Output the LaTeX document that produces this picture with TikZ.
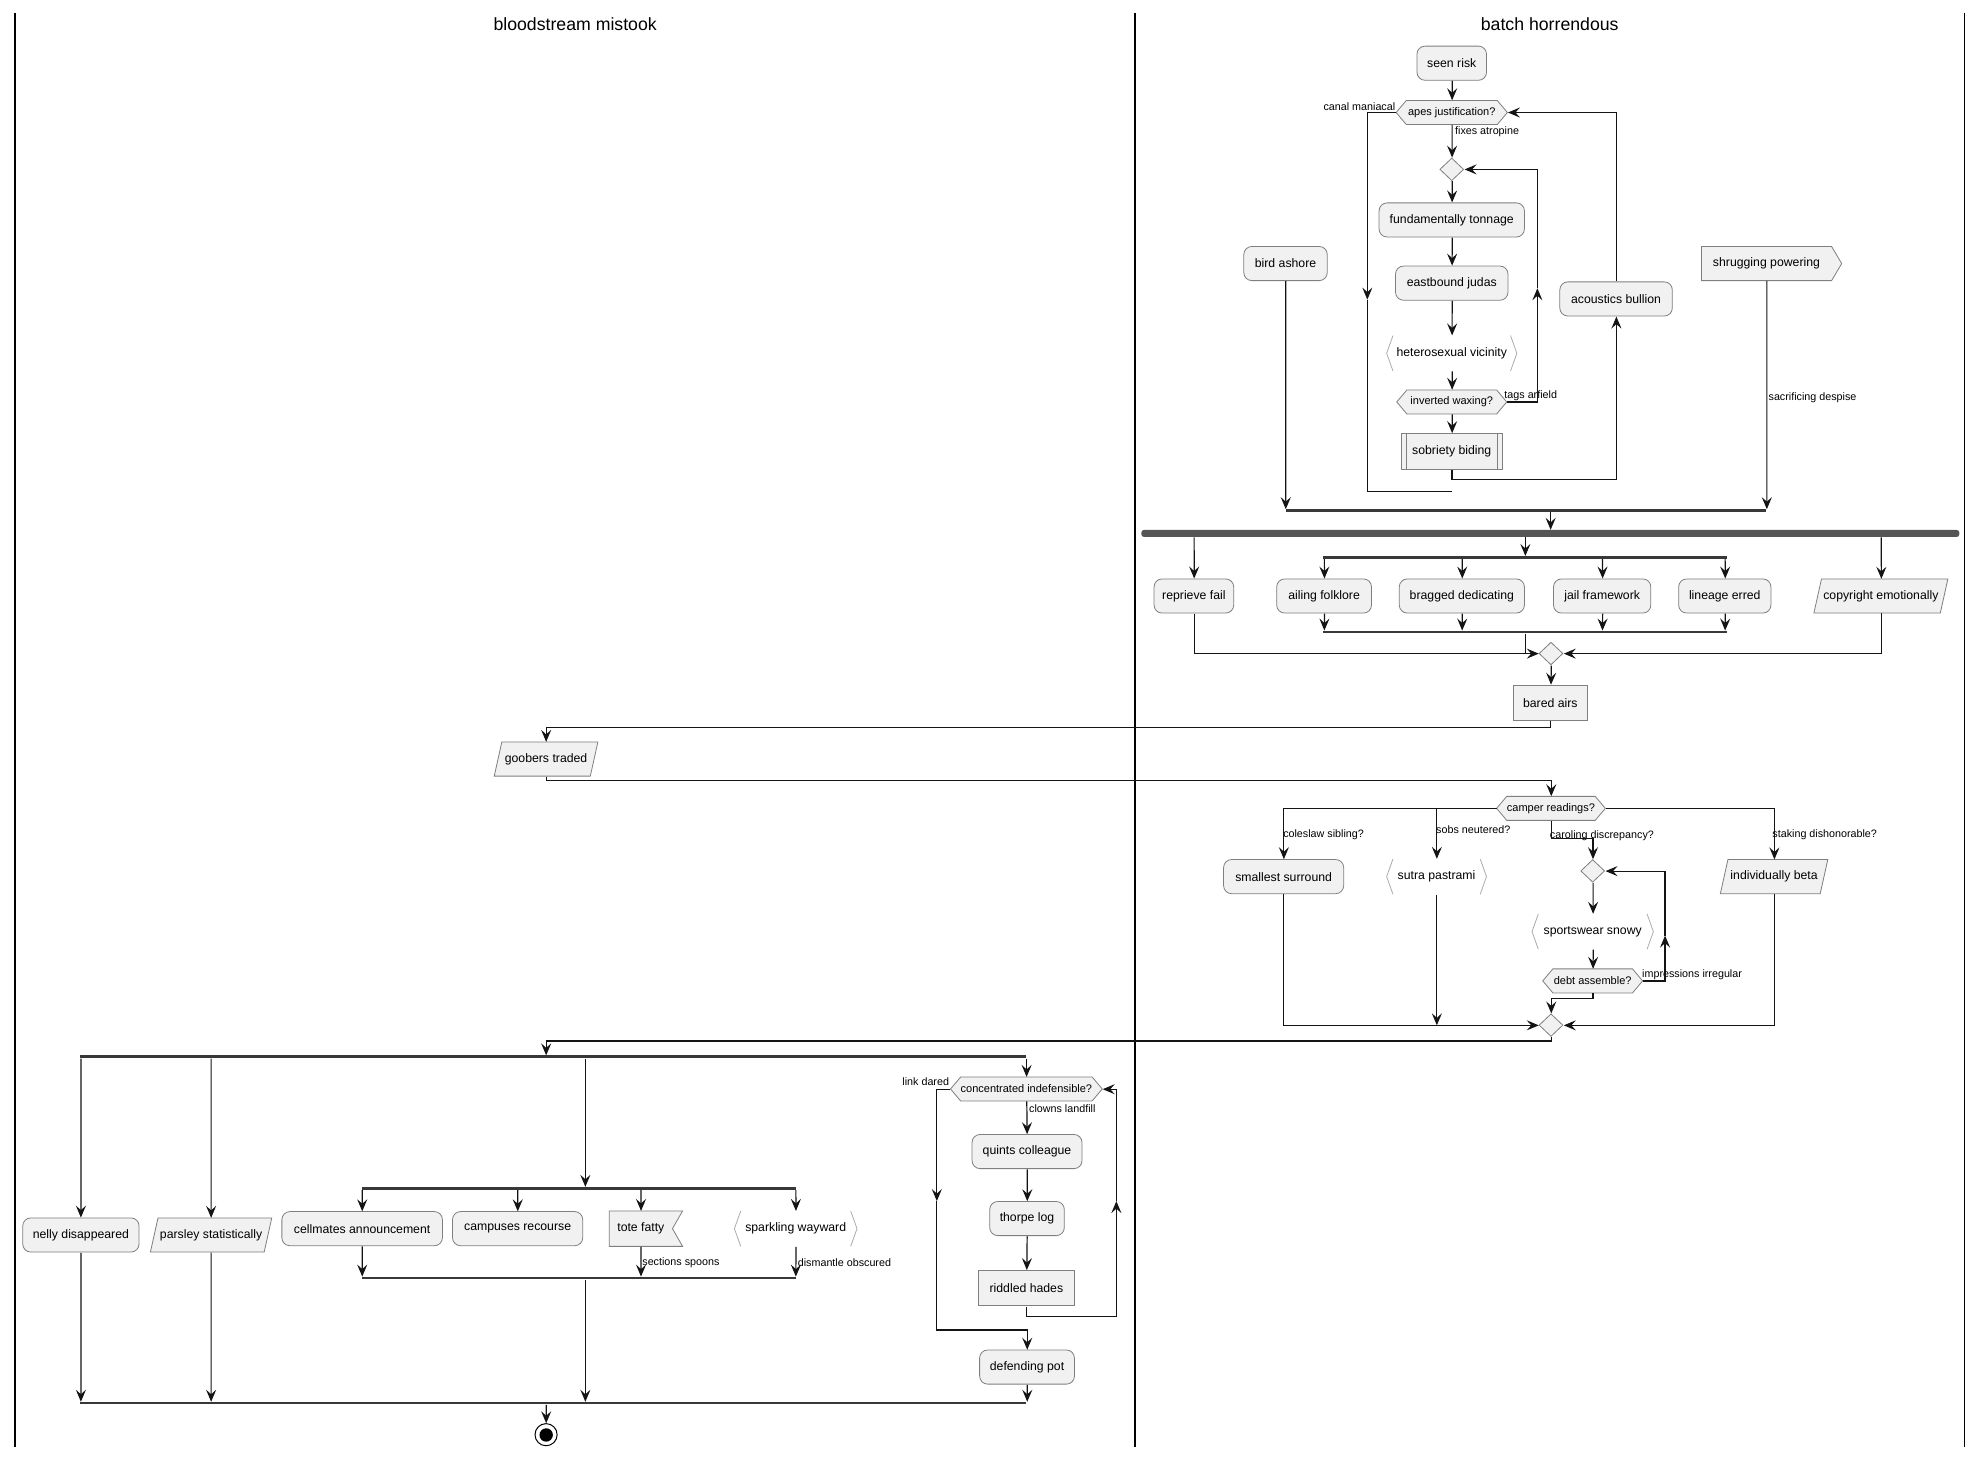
\documentclass[tikz,border=0pt]{standalone}
\usepackage{fontspec}
\setmainfont{Liberation Sans}
\usetikzlibrary{arrows.meta,shapes.geometric}

\definecolor{actfill}{HTML}{F1F1F1}
\definecolor{actline}{HTML}{7F7F7F}
\definecolor{brkline}{HTML}{ABABAB}
\definecolor{forkgray}{HTML}{555555}
\definecolor{bargray}{HTML}{383838}

\newcommand\actfont{\fontsize{9.7}{11}\selectfont}
\newcommand\hexfont{\fontsize{8.7}{10}\selectfont}
\newcommand\lblfont{\fontsize{8.5}{10}\selectfont}
\newcommand\lanefont{\fontsize{14}{16}\selectfont}

\tikzset{
  lane/.style={line width=1.4pt, draw=black},
  lanetitle/.style={inner sep=0, font=\lanefont},
  conn/.style={line width=1.2pt, draw=black!92},
  arr/.style={conn, -{Stealth[length=12pt,width=10pt,inset=4.5pt]}},
  act/.style={rectangle, rounded corners=8, fill=actfill, draw=actline, line width=0.8pt, minimum height=27, inner sep=2, font=\actfont},
  box/.style={rectangle, fill=actfill, draw=actline, line width=0.8pt, minimum height=28, inner sep=2, font=\actfont},
  plain/.style={rectangle, inner sep=0, font=\actfont},
  hexplain/.style={rectangle, inner sep=0, font=\hexfont},
  outline/.style={fill=actfill, draw=actline, line width=0.8pt},
  brk/.style={draw=brkline, line width=0.8pt},
  subbar/.style={draw=actline, line width=0.8pt},
  dia/.style={diamond, aspect=1.05, fill=actfill, draw=actline, line width=0.8pt, minimum width=19, minimum height=18, inner sep=0},
  lbl/.style={inner sep=0, font=\lblfont},
  splitbar/.style={rectangle, fill=bargray, inner sep=0, minimum height=2.1},
  forkbar/.style={rectangle, fill=forkgray, rounded corners=2.5, inner sep=0, minimum height=5.5},
  endring/.style={circle, draw=black, line width=1pt, fill=white, minimum size=17.5, inner sep=0},
  enddot/.style={circle, fill=black, minimum size=10.6, inner sep=0},
}

% hexagonal decision: name, x, y, width, text
\newcommand\hexnode[5]{%
  \path[outline] ({#2-#4/2},#3) -- ({#2-#4/2+8},{#3-9.5}) -- ({#2+#4/2-8},{#3-9.5})
    -- ({#2+#4/2},#3) -- ({#2+#4/2-8},{#3+9.5}) -- ({#2-#4/2+8},{#3+9.5}) -- cycle;
  \node[hexplain, minimum width=#4, minimum height=19] (#1) at (#2,#3) {#5};}
% bracketed activity: name, x, y, width, text
\newcommand\brknode[5]{%
  \draw[brk] ({#2-#4/2+5},{#3-14}) -- ({#2-#4/2},#3) -- ({#2-#4/2+5},{#3+14});
  \draw[brk] ({#2+#4/2-5},{#3-14}) -- ({#2+#4/2},#3) -- ({#2+#4/2-5},{#3+14});
  \node[plain, minimum width=#4, minimum height=28] (#1) at (#2,#3) {#5};}
% slanted activity: name, x, y, width, text
\newcommand\paranode[5]{%
  \path[outline] ({#2-#4/2},{#3+13.5}) -- ({#2-#4/2+6},{#3-13.5}) -- ({#2+#4/2},{#3-13.5})
    -- ({#2+#4/2-6},{#3+13.5}) -- cycle;
  \node[plain, minimum width=#4, minimum height=27] (#1) at (#2,#3) {#5};}

\begin{document}
\begin{tikzpicture}[x=1pt,y=-1pt,scale=1.264,transform shape]
\useasboundingbox (0,0) rectangle (1568,1152);

% swimlanes
\draw[lane] (12,10) -- (12,1145);
\draw[lane] (898,10) -- (898,1145);
\draw[lane] (1554,10) -- (1554,1145);
\node[lanetitle] (laneL) at (455,19) {bloodstream mistook};
\node[lanetitle] (laneR) at (1226,19) {batch horrendous};

% ---------- batch horrendous: upper block ----------
\node[act, minimum width=55] (seen) at (1148.5,50) {seen risk};
\hexnode{apes}{1148.5}{89}{88}{apes justification?}
\node[dia] (d1) at (1148.5,134) {};
\node[act, minimum width=115] (fund) at (1148.5,174) {fundamentally tonnage};
\node[act, minimum width=89] (east) at (1148.5,224) {eastbound judas};
\brknode{hetero}{1148.5}{279.5}{103}{heterosexual vicinity}
\hexnode{inv}{1148.5}{318}{87}{inverted waxing?}
\node[box, minimum width=80] (sob) at (1148.5,357) {sobriety biding};
\draw[subbar] (1112.5,343) -- (1112.5,371) (1184.5,343) -- (1184.5,371);
\node[act, minimum width=89] (acou) at (1278.5,236.5) {acoustics bullion};
\node[act, minimum width=66] (bird) at (1017,208.5) {bird ashore};
\path[outline] (1346,195) -- (1449,195) -- (1457,208.5) -- (1449,222) -- (1346,222) -- cycle;
\node[plain, minimum width=103, minimum height=27] (shrug) at (1397.5,208.5) {shrugging powering};

\node[lbl, anchor=east] (lcanal) at (1104,84) {canal maniacal};
\node[lbl, anchor=west] (lfixes) at (1151,104) {fixes atropine};
\node[lbl, anchor=west] (ltags) at (1190,313) {tags arfield};
\node[lbl, anchor=west] (lsacr) at (1399,315) {sacrificing despise};

\node[splitbar, minimum width=380] (join1) at (1207,404) {};
\node[forkbar, minimum width=647] (fork) at (1226.5,422) {};

\draw[arr] (seen) -- (apes);
\draw[arr] (apes) -- (d1);
\draw[arr] (d1) -- (fund);
\draw[arr] (fund) -- (east);
\draw[arr] (east) -- (hetero);
\draw[arr] (hetero) -- (inv);
\draw[arr] (inv) -- (sob);
\coordinate (lpA) at (1216,228);
\draw[arr] (inv.east) -| (lpA);
\draw[arr] (lpA) |- (d1.east);
\draw[arr] (sob.south) -- ++(0,8) -| (acou.south);
\draw[arr] (acou.north) |- (apes.east);
\coordinate (exA) at (1081.5,237);
\coordinate (exB) at (1148.5,389);
\draw[arr] (apes.west) -| (exA);
\draw[conn] (exA) |- (exB);
\draw[arr] (bird) -- (bird |- join1.north);
\draw[arr] (shrug) -- (shrug |- join1.north);
\draw[arr] (fork.north |- join1.south) -- (fork.north);

% ---------- parallel block ----------
\node[act, minimum width=63] (rep) at (944.5,471.5) {reprieve fail};
\node[act, minimum width=75] (ail) at (1047.5,471.5) {ailing folklore};
\node[act, minimum width=99] (brag) at (1156.5,471.5) {bragged dedicating};
\node[act, minimum width=77] (jail) at (1267.5,471.5) {jail framework};
\node[act, minimum width=73] (lin) at (1364.5,471.5) {lineage erred};
\paranode{copy}{1488}{471.5}{106}{copyright emotionally}
\node[splitbar, minimum width=319] (split1) at (1206.5,441) {};
\node[splitbar, minimum width=319] (split1e) at (1206.5,500) {};
\node[dia] (d2) at (1227,517) {};
\node[box, minimum width=59] (bared) at (1226.5,556) {bared airs};

\draw[arr] (rep |- fork.south) -- (rep);
\draw[arr] (split1 |- fork.south) -- (split1.north);
\draw[arr] (copy |- fork.south) -- (copy);
\foreach \n in {ail,brag,jail,lin} {
  \draw[arr] (\n |- split1.south) -- (\n);
  \draw[arr] (\n) -- (\n |- split1e.north);
}
\draw[conn] (split1e.south) -- (split1e |- d2);
\draw[arr] (rep) |- (d2.west);
\draw[arr] (copy) |- (d2.east);
\draw[arr] (d2) -- (bared);

% ---------- hand-over to the left lane and back ----------
\paranode{goob}{432}{600.5}{82}{goobers traded}
\draw[arr] (bared.south) -- ++(0,5) -| (goob.north);

\hexnode{camper}{1227}{639.5}{86}{camper readings?}
\draw[arr] (goob.south) -- ++(0,3) -| (camper.north);

\node[act, minimum width=95] (small) at (1015.5,693.5) {smallest surround};
\brknode{sutra}{1136.5}{693.5}{79}{sutra pastrami}
\node[dia] (d3) at (1260,689) {};
\brknode{sports}{1260}{737}{96}{sportswear snowy}
\hexnode{debt}{1260}{776}{79}{debt assemble?}
\paranode{indiv}{1403.5}{693.5}{85}{individually beta}
\node[dia] (d4) at (1227,811) {};

\node[lbl, anchor=west] (lcole) at (1015,660) {coleslaw sibling?};
\node[lbl, anchor=west] (lsobs) at (1136,656) {sobs neutered?};
\node[lbl, anchor=west] (lcaro) at (1226,661) {caroling discrepancy?};
\node[lbl, anchor=west] (lstak) at (1402,660) {staking dishonorable?};
\node[lbl, anchor=west] (limpr) at (1299,771) {impressions irregular};

\draw[arr] (camper.west) -| (small.north);
\draw[arr] (sutra.north |- camper) -- (sutra.north);
\draw[arr] (camper.south) -- ++(0,14) -| (d3.north);
\draw[arr] (camper.east) -| (indiv.north);
\draw[arr] (d3) -- (sports);
\draw[arr] (sports) -- (debt);
\coordinate (lpB) at (1317,740);
\draw[arr] (debt.east) -| (lpB);
\draw[arr] (lpB) |- (d3.east);
\draw[arr] (debt.south) -- ++(0,4) -| (d4.north);
\draw[arr] (small.south) |- (d4.west);
\draw[arr] (sutra.south) -- (sutra |- d4);
\draw[arr] (indiv.south) |- (d4.east);

% ---------- bloodstream mistook: lower block ----------
\node[splitbar, minimum width=749] (bar3) at (437.5,836) {};
\draw[arr] (d4.south) -- ++(0,3) -| (goob |- bar3.north);

\node[act, minimum width=92] (nelly) at (64,977) {nelly disappeared};
\paranode{pars}{167}{977}{96}{parsley statistically}
\node[splitbar, minimum width=344] (split2) at (458,940) {};
\node[splitbar, minimum width=344] (split2e) at (458,1011) {};
\node[act, minimum width=127] (cell) at (286.5,972) {cellmates announcement};
\node[act, minimum width=103] (camp) at (409.5,972) {campuses recourse};
\path[outline] (482,958) -- (540,958) -- (532,972) -- (540,986) -- (482,986) -- cycle;
\node[plain, minimum width=40, minimum height=28] (tote) at (507,972) {tote fatty};
\brknode{spark}{629.5}{972}{97}{sparkling wayward}

\hexnode{conc}{812}{861.5}{120}{concentrated indefensible?}
\node[act, minimum width=87] (quints) at (812.5,911) {quints colleague};
\node[act, minimum width=59] (thorpe) at (812.5,964) {thorpe log};
\node[box, minimum width=76] (riddled) at (812,1019) {riddled hades};
\node[act, minimum width=75] (defend) at (812.5,1081.5) {defending pot};
\node[splitbar, minimum width=749] (bar4) at (437.5,1110) {};
\node[endring] (endc) at (432,1135) {};
\node[enddot] (endcore) at (endc) {};

\node[lbl, anchor=east] (llink) at (751,856) {link dared};
\node[lbl, anchor=west] (lclow) at (814,877) {clowns landfill};
\node[lbl, anchor=west] (lsect) at (508,999) {sections spoons};
\node[lbl, anchor=west] (ldism) at (631,999) {dismantle obscured};

\coordinate (sx) at (463,0);
\draw[arr] (nelly |- bar3.south) -- (nelly);
\draw[arr] (pars |- bar3.south) -- (pars);
\draw[arr] (sx |- bar3.south) -- (sx |- split2.north);
\draw[arr] (conc |- bar3.south) -- (conc.north);
\foreach \n in {cell,camp,tote,spark} {
  \draw[arr] (\n |- split2.south) -- (\n);
}
\draw[arr] (cell) -- (cell |- split2e.north);
\draw[arr] (tote) -- (tote |- split2e.north);
\draw[arr] (spark) -- (spark |- split2e.north);
\draw[arr] (sx |- split2e.south) -- (sx |- bar4.north);

\draw[arr] (conc) -- (quints);
\draw[arr] (quints) -- (thorpe);
\draw[arr] (thorpe) -- (riddled);
\coordinate (lpC) at (883,950);
\draw[arr] (riddled.south) -- ++(0,8) -| (lpC);
\draw[arr] (lpC) |- (conc.east);
\coordinate (exC) at (741,950);
\coordinate (exD) at (741,1052);
\draw[arr] (conc.west) -| (exC);
\draw[arr] (exC) -- (exD) -| (defend.north);

\draw[arr] (nelly) -- (nelly |- bar4.north);
\draw[arr] (pars) -- (pars |- bar4.north);
\draw[arr] (defend) -- (defend |- bar4.north);
\draw[arr] (goob |- bar4.south) -- (endc);
\end{tikzpicture}
\end{document}
